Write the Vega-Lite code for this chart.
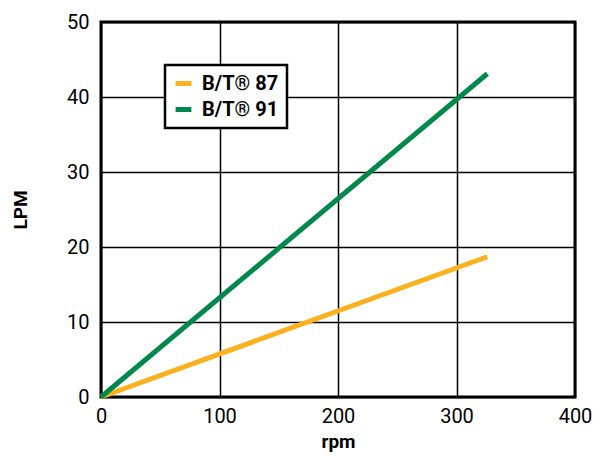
{
  "$schema": "https://vega.github.io/schema/vega-lite/v6.json",
  "width": 474,
  "height": 375,
  "autosize": {"type": "none"},
  "padding": {"left": 101, "top": 22, "right": 26, "bottom": 59},
  "background": "white",
  "data": {"values": [
    {"rpm": 0, "lpm": 0, "series": "B/T® 87"},
    {"rpm": 326, "lpm": 18.7, "series": "B/T® 87"},
    {"rpm": 0, "lpm": 0, "series": "B/T® 91"},
    {"rpm": 326, "lpm": 43.1, "series": "B/T® 91"}
  ]},
  "mark": {"type": "line", "strokeWidth": 5, "strokeCap": "butt"},
  "encoding": {
    "x": {"field": "rpm", "type": "quantitative", "scale": {"domain": [0, 400], "nice": false},
      "axis": {"values": [0, 100, 200, 300, 400], "title": "rpm", "ticks": false, "domain": false, "grid": true,
        "gridColor": "black", "gridWidth": 1.5, "gridOpacity": 1, "labelFlush": false,
        "labelFont": "Roboto", "labelFontSize": 20, "labelColor": "black", "labelPadding": 9,
        "titleFont": "Roboto", "titleFontSize": 19, "titleFontWeight": "bold", "titleColor": "black", "titlePadding": 6}},
    "y": {"field": "lpm", "type": "quantitative", "scale": {"domain": [0, 50], "nice": false},
      "axis": {"values": [0, 10, 20, 30, 40, 50], "title": "LPM", "ticks": false, "domain": false, "grid": true,
        "gridColor": "black", "gridWidth": 1.5, "gridOpacity": 1, "labelFlush": false,
        "labelFont": "Roboto", "labelFontSize": 20, "labelColor": "black", "labelPadding": 12,
        "titleFont": "Roboto", "titleFontSize": 19, "titleFontWeight": "bold", "titleColor": "black", "titlePadding": 36}},
    "color": {"field": "series", "type": "nominal",
      "scale": {"domain": ["B/T® 87", "B/T® 91"], "range": ["#FBB01F", "#00894A"]},
      "legend": {"title": null, "orient": "none", "legendX": 64, "legendY": 43,
        "symbolType": "stroke", "symbolStrokeWidth": 5, "symbolSize": 250,
        "labelFont": "Roboto", "labelFontSize": 20, "labelFontWeight": "bold", "labelColor": "black",
        "strokeColor": "black", "fillColor": "white", "padding": 8, "rowPadding": 5, "labelOffset": 8,
        "encode": {"legend": {"update": {"strokeWidth": {"value": 2.5}}}}}}
  },
  "config": {"view": {"stroke": "black", "strokeWidth": 3}}
}
